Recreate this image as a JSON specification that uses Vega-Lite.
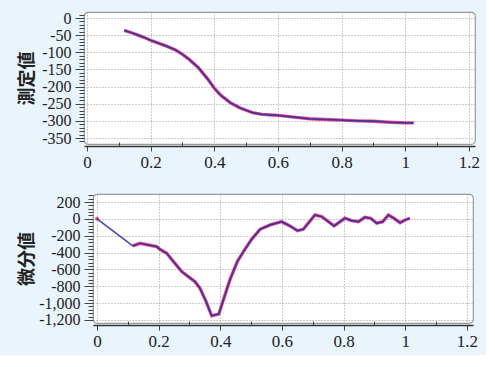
{
  "$schema": "https://vega.github.io/schema/vega-lite/v6.json",
  "background": "#e9f4fc",
  "padding": {"left": 17, "top": 9, "right": 5, "bottom": 5},
  "spacing": 22,
  "datasets": {
    "none": [],
    "top": [
      {"x": 0.117, "y": -36}, {"x": 0.14, "y": -43}, {"x": 0.16, "y": -50}, {"x": 0.18, "y": -57},
      {"x": 0.2, "y": -65}, {"x": 0.22, "y": -72}, {"x": 0.25, "y": -82}, {"x": 0.28, "y": -94},
      {"x": 0.3, "y": -106}, {"x": 0.32, "y": -120}, {"x": 0.35, "y": -145}, {"x": 0.38, "y": -179},
      {"x": 0.4, "y": -205}, {"x": 0.42, "y": -225}, {"x": 0.45, "y": -247}, {"x": 0.48, "y": -262},
      {"x": 0.5, "y": -269}, {"x": 0.52, "y": -276}, {"x": 0.55, "y": -281}, {"x": 0.6, "y": -284},
      {"x": 0.65, "y": -289}, {"x": 0.7, "y": -294}, {"x": 0.75, "y": -296}, {"x": 0.8, "y": -298},
      {"x": 0.85, "y": -300}, {"x": 0.9, "y": -301}, {"x": 0.95, "y": -304}, {"x": 1.0, "y": -306},
      {"x": 1.026, "y": -306}
    ],
    "bot": [
      {"x": 0, "y": 0}, {"x": 0.116, "y": -321}, {"x": 0.14, "y": -290}, {"x": 0.167, "y": -310},
      {"x": 0.194, "y": -330}, {"x": 0.204, "y": -361}, {"x": 0.226, "y": -408}, {"x": 0.248, "y": -507},
      {"x": 0.275, "y": -626}, {"x": 0.296, "y": -685}, {"x": 0.318, "y": -745}, {"x": 0.334, "y": -824},
      {"x": 0.354, "y": -982}, {"x": 0.372, "y": -1150}, {"x": 0.395, "y": -1130}, {"x": 0.431, "y": -725},
      {"x": 0.455, "y": -507}, {"x": 0.475, "y": -389}, {"x": 0.502, "y": -240}, {"x": 0.529, "y": -124},
      {"x": 0.562, "y": -72}, {"x": 0.599, "y": -33}, {"x": 0.626, "y": -84}, {"x": 0.65, "y": -140},
      {"x": 0.669, "y": -124}, {"x": 0.707, "y": 46}, {"x": 0.729, "y": 26}, {"x": 0.769, "y": -84},
      {"x": 0.804, "y": 7}, {"x": 0.826, "y": -21}, {"x": 0.848, "y": -33}, {"x": 0.869, "y": 19},
      {"x": 0.888, "y": 7}, {"x": 0.907, "y": -52}, {"x": 0.927, "y": -33}, {"x": 0.945, "y": 46},
      {"x": 0.963, "y": 7}, {"x": 0.983, "y": -45}, {"x": 0.999, "y": -13}, {"x": 1.015, "y": 7}
    ]
  },
  "vconcat": [
    {
      "spacing": 0,
      "hconcat": [
        {
          "width": 1,
          "height": 1,
          "data": {"name": "none"},
          "mark": "point",
          "encoding": {},
          "view": {"stroke": null, "fill": null}
        },
        {
          "width": 391,
          "height": 132,
          "data": {"name": "top"},
          "resolve": {"axis": {"x": "independent", "y": "independent"}},
          "layer": [
            {
              "mark": {"type": "line", "color": "#e8508a", "strokeWidth": 3.4},
              "encoding": {
                "x": {"field": "x", "type": "quantitative", "scale": {"domain": [-0.0094, 1.219], "nice": false, "zero": false},
                  "axis": {"orient": "bottom", "values": [0, 0.2, 0.4, 0.6, 0.8, 1, 1.2], "title": null, "offset": 2, "tickSize": 5, "labelPadding": 3, "labelExpr": "format(datum.value, '~g')", "grid": true}},
                "y": {"field": "y", "type": "quantitative", "scale": {"domain": [-367.5, 17.5], "nice": false, "zero": false},
                  "axis": {"orient": "left", "values": [-350, -300, -250, -200, -150, -100, -50, 0], "title": "測定値", "tickSize": 9, "domain": false, "grid": true, "labelExpr": "replace(format(datum.value, ','), '−', '-')"}}
              }
            },
            {
              "mark": {"type": "line", "color": "#2a2a9c", "strokeWidth": 1.7, "opacity": 0.85},
              "encoding": {
                "x": {"field": "x", "type": "quantitative", "scale": {"domain": [-0.0094, 1.219], "nice": false, "zero": false},
                  "axis": {"orient": "bottom", "values": [0.1, 0.3, 0.5, 0.7, 0.9, 1.1], "title": null, "offset": 2, "tickSize": -4, "labels": false, "domain": false, "grid": false}},
                "y": {"field": "y", "type": "quantitative", "scale": {"domain": [-367.5, 17.5], "nice": false, "zero": false},
                  "axis": {"orient": "left", "values": [-360, -340, -330, -320, -310, -290, -280, -270, -260, -240, -230, -220, -210, -190, -180, -170, -160, -140, -130, -120, -110, -90, -80, -70, -60, -40, -30, -20, -10, 10], "title": null, "tickSize": 5, "labels": false, "domain": false, "grid": false}}
              }
            }
          ]
        }
      ]
    },
    {
      "spacing": 0,
      "hconcat": [
        {
          "width": 1,
          "height": 1,
          "data": {"name": "none"},
          "mark": "point",
          "encoding": {},
          "view": {"stroke": null, "fill": null}
        },
        {
          "width": 380,
          "height": 129,
          "data": {"name": "bot"},
          "resolve": {"axis": {"x": "independent", "y": "independent"}},
          "layer": [
            {
              "transform": [{"filter": "datum.x > 0.05"}],
              "mark": {"type": "line", "color": "#e8508a", "strokeWidth": 3.4},
              "encoding": {
                "x": {"field": "x", "type": "quantitative", "scale": {"domain": [-0.013, 1.2196], "nice": false, "zero": false},
                  "axis": {"orient": "bottom", "values": [0, 0.2, 0.4, 0.6, 0.8, 1, 1.2], "title": null, "offset": 2, "tickSize": 5, "labelPadding": 3, "labelExpr": "format(datum.value, '~g')", "grid": true}},
                "y": {"field": "y", "type": "quantitative", "scale": {"domain": [-1236, 295], "nice": false, "zero": false},
                  "axis": {"orient": "left", "values": [-1200, -1000, -800, -600, -400, -200, 0, 200], "title": "微分値", "titlePadding": 2, "tickSize": 9, "domain": false, "grid": true, "labelExpr": "replace(format(datum.value, ','), '−', '-')"}}
              }
            },
            {
              "transform": [{"filter": "datum.x < 0.05"}],
              "mark": {"type": "point", "color": "#e8508a", "filled": true, "size": 16, "opacity": 1},
              "encoding": {
                "x": {"field": "x", "type": "quantitative", "scale": {"domain": [-0.013, 1.2196], "nice": false, "zero": false}, "axis": null},
                "y": {"field": "y", "type": "quantitative", "scale": {"domain": [-1236, 295], "nice": false, "zero": false}, "axis": null}
              }
            },
            {
              "mark": {"type": "line", "color": "#2a2a9c", "strokeWidth": 1.7, "opacity": 0.85},
              "encoding": {
                "x": {"field": "x", "type": "quantitative", "scale": {"domain": [-0.013, 1.2196], "nice": false, "zero": false},
                  "axis": {"orient": "bottom", "values": [0.1, 0.3, 0.5, 0.7, 0.9, 1.1], "title": null, "offset": 2, "tickSize": -4, "labels": false, "domain": false, "grid": false}},
                "y": {"field": "y", "type": "quantitative", "scale": {"domain": [-1236, 295], "nice": false, "zero": false},
                  "axis": {"orient": "left", "values": [-1160, -1120, -1080, -1040, -960, -920, -880, -840, -760, -720, -680, -640, -560, -520, -480, -440, -360, -320, -280, -240, -160, -120, -80, -40, 40, 80, 120, 160, 240, 280], "title": null, "tickSize": 5, "labels": false, "domain": false, "grid": false}}
              }
            }
          ]
        }
      ]
    }
  ],
  "config": {
    "view": {"stroke": "#9a9a9a", "strokeWidth": 1.2, "cornerRadius": 4, "fill": "#ffffff"},
    "axis": {
      "labelFont": "Liberation Sans Narrow",
      "labelFontSize": 16,
      "labelColor": "#222222",
      "tickColor": "#444444",
      "tickWidth": 1,
      "domainColor": "#333333",
      "domainWidth": 1.4,
      "gridColor": "#9a9a9a",
      "gridDash": [1, 2],
      "gridWidth": 1,
      "labelPadding": 4,
      "titleFont": "Noto Sans CJK JP",
      "titleFontWeight": "bold",
      "titleFontSize": 18,
      "titleColor": "#222222",
      "titlePadding": 5
    },
    "axisX": {"labelFontSize": 17}
  }
}
